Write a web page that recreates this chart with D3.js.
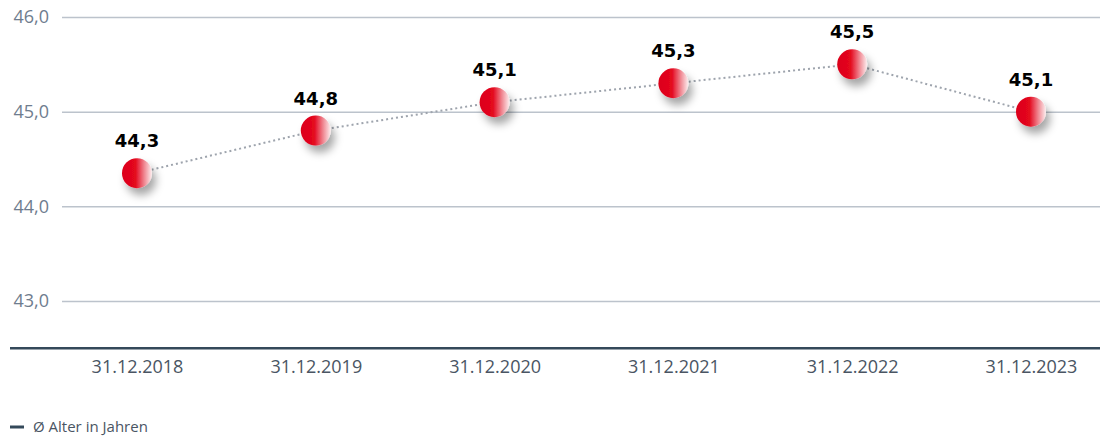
<!DOCTYPE html>
<html>
<head>
<meta charset="utf-8">
<script src="https://cdn.jsdelivr.net/npm/d3@7"></script>
<style>
  body { margin: 0; background: #fff; }
  svg text { font-family: "Open Sans", sans-serif; }
</style>
</head>
<body>
<div id="chart"></div>
<script>
// data
const categories = ["31.12.2018", "31.12.2019", "31.12.2020", "31.12.2021", "31.12.2022", "31.12.2023"];
const ages = [44.35, 44.8, 45.1, 45.3, 45.5, 45.0];
const ageLabels = ["44,3", "44,8", "45,1", "45,3", "45,5", "45,1"];
const yTicks = [43, 44, 45, 46];
const legendLabel = "Ø Alter in Jahren";

const width = 1100, height = 443;

const svg = d3.select("#chart").append("svg")
    .attr("width", width)
    .attr("height", height);

const defs = svg.append("defs");

let grad = defs.append("linearGradient")
    .attr("id", "ballGrad")
    .attr("x1", "0").attr("x2", "1").attr("y1", "0").attr("y2", "0");
grad.append("stop").attr("offset", "0").attr("stop-color", "#dc0019");
grad.append("stop").attr("offset", "0.45").attr("stop-color", "#e4081f");
grad.append("stop").attr("offset", "0.75").attr("stop-color", "#f08a94");
grad.append("stop").attr("offset", "1").attr("stop-color", "#fdeff0");

let shadow = defs.append("filter")
    .attr("id", "ballShadow")
    .attr("x", "-50%").attr("y", "-50%").attr("width", "200%").attr("height", "220%");
shadow.append("feDropShadow")
    .attr("dx", 4).attr("dy", 7)
    .attr("stdDeviation", 4)
    .attr("flood-color", "#000")
    .attr("flood-opacity", 0.35);

// scales
const x = d3.scalePoint()
    .domain(categories)
    .range([137, 1031]);

const y = d3.scaleLinear()
    .domain([42.5, 46])
    .range([348.3, 17]);

// grid + y labels
const fmt = d3.format(".1f");
const yAxis = d3.axisLeft(y)
    .tickValues(yTicks)
    .tickSize(-(width - 62))
    .tickPadding(13)
    .tickFormat(d => fmt(d).replace(".", ","));

const yG = svg.append("g")
    .attr("class", "y-axis")
    .attr("transform", "translate(62,0)")
    .call(yAxis);
yG.select(".domain").remove();
yG.selectAll(".tick line")
    .attr("stroke", "#bcc3cc")
    .attr("stroke-width", 1.5);
yG.selectAll(".tick text")
    .attr("fill", "#6f7d8e")
    .attr("font-size", 18);

// baseline + x labels
const xAxis = d3.axisBottom(x)
    .tickSize(0)
    .tickPadding(12);

const xG = svg.append("g")
    .attr("class", "x-axis")
    .attr("transform", "translate(0," + y(42.5) + ")")
    .call(xAxis);
xG.select(".domain").remove();
xG.selectAll(".tick text")
    .attr("fill", "#4a5563")
    .attr("font-size", 18);

svg.append("line")
    .attr("x1", 10).attr("x2", width)
    .attr("y1", y(42.5)).attr("y2", y(42.5))
    .attr("stroke", "#34495a")
    .attr("stroke-width", 2.5);

// dotted connector
const line = d3.line()
    .x((d, i) => x(categories[i]))
    .y(d => y(d));

svg.append("path")
    .datum(ages)
    .attr("d", line)
    .attr("fill", "none")
    .attr("stroke", "#9ea4ad")
    .attr("stroke-width", 2)
    .attr("stroke-dasharray", "2,3");

// balls
svg.selectAll(".ball")
    .data(ages)
    .enter().append("circle")
    .attr("class", "ball")
    .attr("cx", (d, i) => x(categories[i]))
    .attr("cy", d => y(d))
    .attr("r", 15)
    .attr("fill", "url(#ballGrad)")
    .attr("filter", "url(#ballShadow)");

// value labels
svg.selectAll(".val")
    .data(ages)
    .enter().append("text")
    .attr("class", "val")
    .attr("x", (d, i) => x(categories[i]))
    .attr("y", d => y(d) - 26)
    .attr("text-anchor", "middle")
    .style("font-family", "'DejaVu Sans', sans-serif")
    .attr("font-weight", "bold")
    .attr("font-size", 18)
    .attr("fill", "#000")
    .text((d, i) => ageLabels[i]);

// legend
svg.append("line")
    .attr("x1", 10).attr("x2", 24)
    .attr("y1", 427).attr("y2", 427)
    .attr("stroke", "#34495a")
    .attr("stroke-width", 3);

svg.append("text")
    .attr("x", 33)
    .attr("y", 432)
    .attr("font-size", 15)
    .attr("fill", "#4a5563")
    .text(legendLabel);
</script>
</body>
</html>
